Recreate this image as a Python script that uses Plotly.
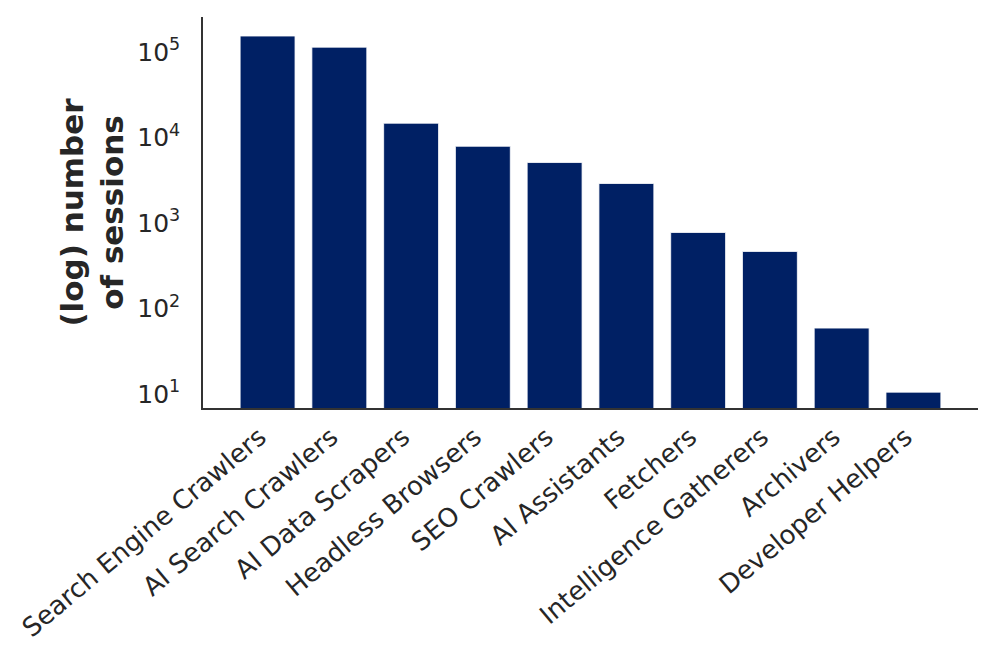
import plotly.graph_objects as go

categories = ["Search Engine Crawlers", "AI Search Crawlers", "AI Data Scrapers",
              "Headless Browsers", "SEO Crawlers", "AI Assistants", "Fetchers",
              "Intelligence Gatherers", "Archivers", "Developer Helpers"]
sessions = [154000, 114000, 14700, 7900, 5100, 2900, 775, 465, 59, 10.5]
tick_vals = [10, 100, 1000, 10000, 100000]
tick_text = ["10<sup>1</sup>", "10<sup>2</sup>", "10<sup>3</sup>", "10<sup>4</sup>", "10<sup>5</sup>"]

fig = go.Figure(go.Bar(
    x=categories, y=sessions,
    marker=dict(color="#002064", line=dict(color="white", width=0.8)),
))

fig.update_layout(
    width=995, height=657,
    margin=dict(l=203, r=17, t=17, b=249),
    plot_bgcolor="white", paper_bgcolor="white",
    bargap=0.235,
    showlegend=False,
    font=dict(family="DejaVu Sans", color="#262626"),
)
fig.update_xaxes(
    range=[-0.9, 9.9], tickangle=-40, tickfont=dict(size=26), automargin=False,
    ticklabelshift=-8, ticklabelstandoff=2,
    showline=True, linecolor="#333333", linewidth=1.5, ticks="", showgrid=False,
)
fig.update_yaxes(
    type="log", range=[0.836, 5.41], tickvals=tick_vals, ticktext=tick_text,
    tickfont=dict(size=25), showline=True, linecolor="#333333", linewidth=1.5,
    ticks="", showgrid=False, zeroline=False, automargin=False, ticklabelstandoff=16,
    title=dict(text="<b>(log) number<br>of sessions</b>", font=dict(size=31, color="#262626"), standoff=4),
)

fig.write_html("out.html", post_script="document.body.style.margin='0';",
               config={"displayModeBar": False})
